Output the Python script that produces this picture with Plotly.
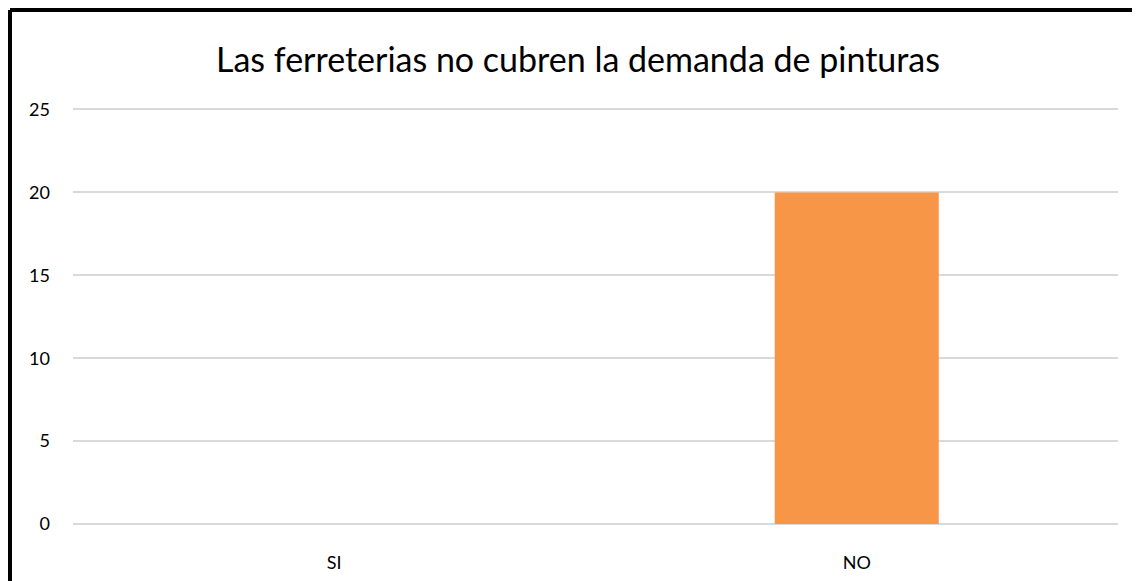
import plotly.graph_objects as go

categorias = ['SI', 'NO']
respuestas = [0, 20]

# la página deja un margen de 8 px alrededor del gráfico
OFF = 8
W, H = 1140, 581
YMAX = 25.15
L, R, B = 73 - OFF, 22 + OFF, 57 + OFF
T = round(109 - OFF - (YMAX - 25) * 415 / 25)
pw, ph = W - L - R, H - T - B


def px_x(px):
    return (px - OFF - L) / pw


def px_y(py):
    return (H - B - (py - OFF)) / ph


fig = go.Figure()

fig.add_trace(go.Bar(
    x=categorias,
    y=respuestas,
    marker=dict(color='#F79646', line=dict(width=0)),
    hoverinfo='x+y',
))

fig.update_layout(
    width=W, height=H,
    margin=dict(l=L, r=R, t=T, b=B),
    paper_bgcolor='white',
    plot_bgcolor='white',
    bargap=0.686,
    showlegend=False,
    font=dict(family='Lato, Carlito, sans-serif', size=18, color='black'),
    title=dict(
        text='Las ferreterias no cubren la demanda de pinturas',
        font=dict(family='Lato, Carlito, sans-serif', size=34, color='black'),
        x=(578 - OFF) / W, xanchor='center',
        y=1 - (60 - OFF) / H, yanchor='middle',
    ),
)

fig.update_xaxes(
    showgrid=False, showline=False, zeroline=False,
    ticks='', ticklabelstandoff=26,
    tickfont=dict(size=18),
)
fig.update_yaxes(
    range=[0, YMAX], dtick=5,
    showgrid=True, gridcolor='#D9D9D9', gridwidth=1.5,
    zeroline=True, zerolinecolor='#D9D9D9', zerolinewidth=1.5,
    showline=False,
    ticks='', ticklabelstandoff=22,
    tickfont=dict(size=18),
)

# marco negro (solo arriba e izquierda visibles)
fig.add_shape(type='line', xref='paper', yref='paper',
              x0=px_x(10), x1=px_x(W + 20), y0=px_y(10), y1=px_y(10),
              line=dict(color='black', width=4))
fig.add_shape(type='line', xref='paper', yref='paper',
              x0=px_x(10), x1=px_x(10), y0=px_y(10), y1=px_y(H + 20),
              line=dict(color='black', width=4))

fig.write_html('out.html')
